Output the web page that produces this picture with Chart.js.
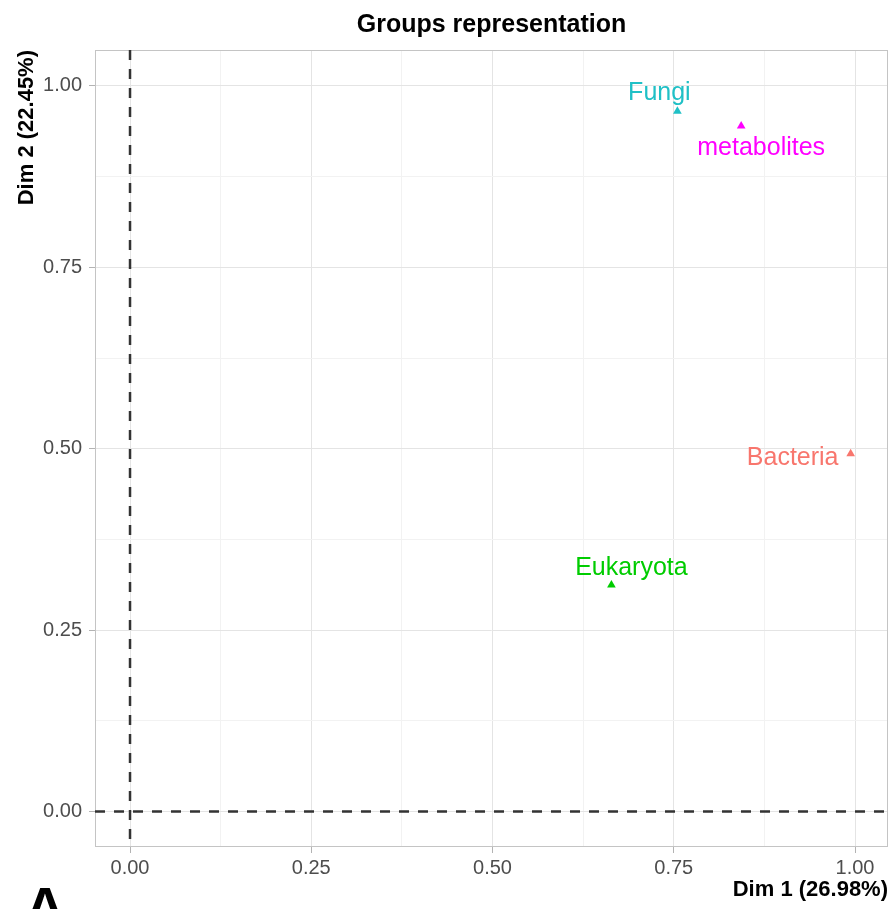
<!DOCTYPE html>
<html>
<head>
<meta charset="utf-8">
<title>Groups representation</title>
<script src="https://cdn.jsdelivr.net/npm/chart.js@4.4.0/dist/chart.umd.min.js"></script>
<style>
    body { margin: 0; background: #ffffff; overflow: hidden; }
    canvas { display: block; }
</style>
</head>
<body>
<canvas id="myChart" width="894" height="909"></canvas>
<script>
// data
let groups = ["Bacteria", "Eukaryota", "Fungi", "metabolites"];
let dim1 = [0.994, 0.664, 0.755, 0.843];
let dim2 = [0.493, 0.312, 0.965, 0.945];
let groupColors = ["#F8766D", "#00CC00", "#1FC0C6", "#FF00FF"];

let gridValues = [0, 0.125, 0.25, 0.375, 0.5, 0.625, 0.75, 0.875, 1];
let majorTicks = [0, 0.25, 0.5, 0.75, 1];

let xLimits = [-0.0483, 1.0455];
let yLimits = [-0.049, 1.0496];

let titleText = "Groups representation";
let xTitle = "Dim 1 (26.98%)";
let yTitle = "Dim 2 (22.45%)";

// label nudges in pixels (dx, dy to text baseline centre)
let labelNudge = [[-58, 11], [20, -10], [-18, -11], [20, 29]];

const FONT = "'Liberation Sans', Arial, Helvetica, sans-serif";

function isMajor(v) {
    return majorTicks.some(function (m) { return Math.abs(m - v) < 1e-9; });
}

let overlay = {
    id: "overlay",
    beforeDatasetsDraw: function (chart) {
        let c = chart.ctx;
        let a = chart.chartArea;
        let x0 = chart.scales.x.getPixelForValue(0);
        let y0 = chart.scales.y.getPixelForValue(0);
        c.save();
        // panel border
        c.strokeStyle = "#c4c4c4";
        c.lineWidth = 1;
        c.strokeRect(a.left + 0.5, a.top + 0.5, a.right - a.left - 1, a.bottom - a.top - 1);
        // dashed zero lines
        c.strokeStyle = "#333333";
        c.lineWidth = 2.5;
        c.setLineDash([10, 9]);
        c.beginPath();
        c.moveTo(x0, a.top);
        c.lineTo(x0, a.bottom);
        c.stroke();
        c.beginPath();
        c.moveTo(a.left, y0);
        c.lineTo(a.right, y0);
        c.stroke();
        c.restore();
    },
    afterDatasetsDraw: function (chart) {
        let c = chart.ctx;
        c.save();
        c.font = "25px " + FONT;
        c.textAlign = "center";
        c.textBaseline = "alphabetic";
        for (let i = 0; i < groups.length; i++) {
            let px = chart.scales.x.getPixelForValue(dim1[i]);
            let py = chart.scales.y.getPixelForValue(dim2[i]);
            c.fillStyle = groupColors[i];
            c.fillText(groups[i], px + labelNudge[i][0], py + labelNudge[i][1]);
        }
        c.restore();
    },
    afterDraw: function (chart) {
        let c = chart.ctx;
        let a = chart.chartArea;
        c.save();
        c.fillStyle = "#000000";
        c.textBaseline = "alphabetic";

        c.font = "bold 25px " + FONT;
        c.textAlign = "center";
        c.fillText(titleText, (a.left + a.right) / 2, 32);

        c.font = "bold 22px " + FONT;
        c.textAlign = "right";
        c.fillText(xTitle, a.right, 896);

        c.save();
        c.translate(33, a.top);
        c.rotate(-Math.PI / 2);
        c.textAlign = "right";
        c.fillText(yTitle, 0, 0);
        c.restore();

        // panel tag, cut off by the bottom edge
        c.font = "bold 56px " + FONT;
        c.textAlign = "center";
        c.fillText("A", 45, 926);
        c.restore();
    }
};

function axisOptions(limits, fitSize, isX) {
    return {
        type: "linear",
        min: limits[0],
        max: limits[1],
        afterBuildTicks: function (scale) {
            scale.ticks = gridValues.map(function (v) { return { value: v }; });
        },
        afterFit: function (scale) {
            if (isX) {
                scale.height = fitSize;
            } else {
                scale.width = fitSize;
            }
        },
        border: { display: false },
        grid: {
            color: function (ctx) {
                return isMajor(ctx.tick.value) ? "#e4e4e4" : "#f2f2f2";
            },
            lineWidth: 1,
            drawTicks: true,
            tickLength: 6,
            tickColor: function (ctx) {
                return isMajor(ctx.tick.value) ? "#b3b3b3" : "rgba(0,0,0,0)";
            }
        },
        ticks: {
            autoSkip: false,
            maxRotation: 0,
            padding: isX ? 3 : 7,
            color: "#4d4d4d",
            font: { family: FONT, size: 20 },
            callback: function (value) {
                return isMajor(value) ? value.toFixed(2) : "";
            }
        }
    };
}

document.addEventListener("DOMContentLoaded", function () {
    let ctx = document.getElementById("myChart").getContext("2d");

    let points = dim1.map(function (x, i) { return { x: x, y: dim2[i] }; });

    new Chart(ctx, {
        type: "scatter",
        data: {
            datasets: [
                {
                    data: points,
                    pointStyle: "triangle",
                    pointRadius: 5,
                    pointHoverRadius: 5,
                    pointBorderWidth: 0,
                    pointBackgroundColor: groupColors,
                    pointBorderColor: groupColors
                }
            ]
        },
        options: {
            responsive: false,
            animation: false,
            layout: {
                padding: { top: 50, right: 6, bottom: 0, left: 0 }
            },
            scales: {
                x: axisOptions(xLimits, 62, true),
                y: axisOptions(yLimits, 95, false)
            },
            plugins: {
                legend: { display: false },
                tooltip: { enabled: false },
                title: { display: false }
            }
        },
        plugins: [overlay]
    });
});
</script>
</body>
</html>
